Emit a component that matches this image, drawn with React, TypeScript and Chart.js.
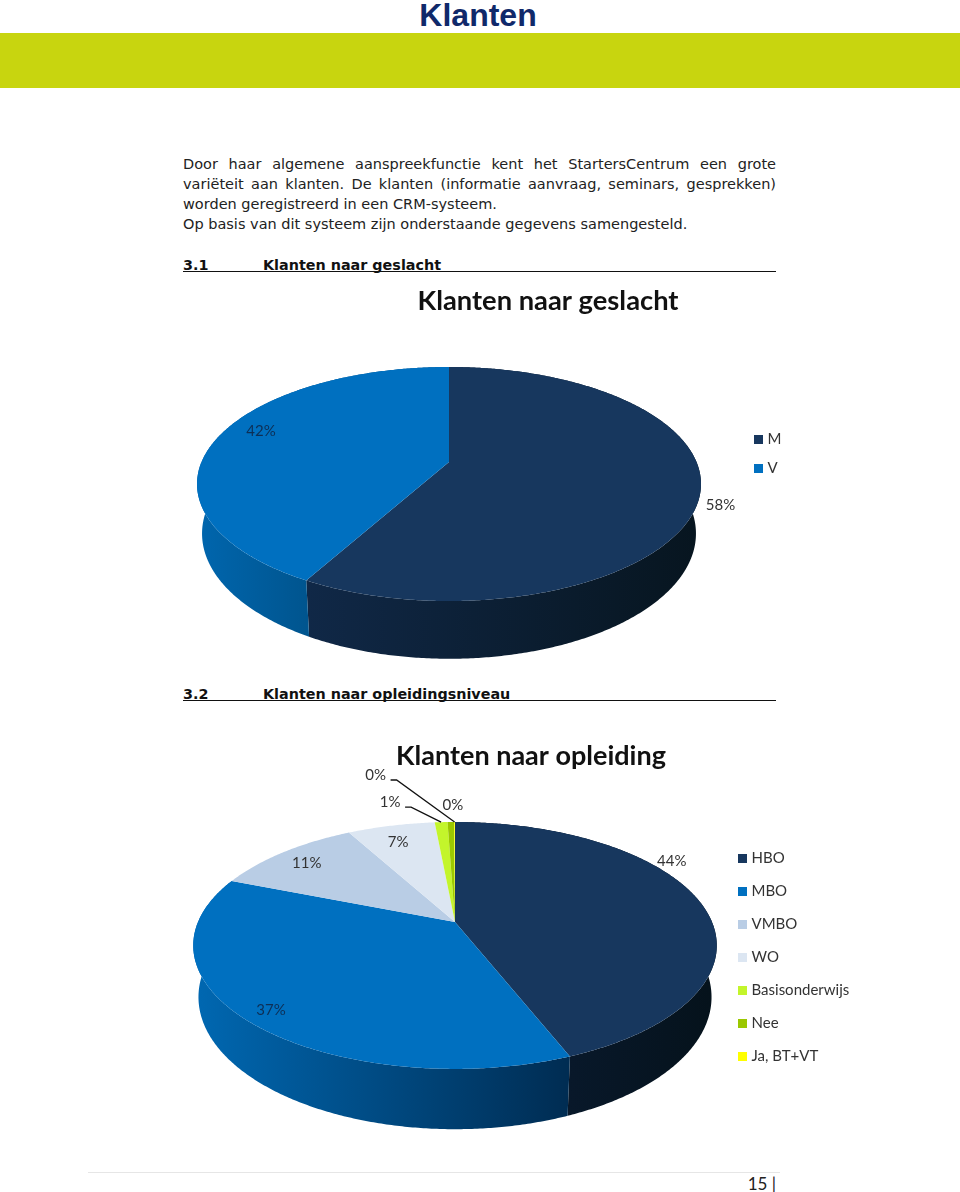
import React, { useEffect, useRef } from "react";
import { Chart, registerables } from "chart.js";

Chart.register(...registerables);

// ---- data ----
const genderTitle = "Klanten naar geslacht";
const genderLabels = ["M", "V"];
const genderValues = [58, 42];
const genderColors = ["#17375E", "#0070C0"];
const genderWalls = [["#102847", "#07151f"], ["#0066ae", "#00558f"]];
const genderLabelColors = ["#333333", "#0d2f55"];

const eduTitle = "Klanten naar opleiding";
const eduLabels = ["HBO", "MBO", "VMBO", "WO", "Basisonderwijs", "Nee", "Ja, BT+VT"];
const eduValues = [44, 37, 11, 6.5, 0.95, 0.49, 0.06];
const eduColors = ["#17375E", "#0070C0", "#B9CDE5", "#DCE6F2", "#C3F52B", "#9BC800", "#FFFF00"];
const eduWalls = [["#08182a", "#05121b"], ["#0068b2", "#002c52"], ["#8a99ab", "#8a99ab"], ["#a5acb5", "#a5acb5"], ["#92b820", "#92b820"], ["#749600", "#749600"], ["#bfbf00", "#bfbf00"]];
const eduLabelColors = ["#333333", "#0d2f55", "#333333", "#333333", "#333333", "#333333", "#333333"];

const introLines = [
  "Door haar algemene aanspreekfunctie kent het StartersCentrum een grote",
  "variëteit aan klanten. De klanten (informatie aanvraag, seminars, gesprekken)",
];
const FONT = "Lato, sans-serif";

type Cfg = {
  left: number; top: number; width: number; height: number;
  title: string; titleSize: number; labels: string[]; values: number[]; colors: string[]; walls: string[][]; labelColors: string[];
  cx: number; cy: number; rx: number; ry: number; persp: number; depth: number; shrink: number; stretch: number;
  titlePad: number; legendPos: number[]; legendGap: number;
  labelOffsets: number[][]; leaders: boolean[];
};

const pie3d = (c: Cfg) => {
  const project = (a: number, scale = 1) => {
    const u = Math.cos(a) * scale, v = Math.sin(a) * scale;
    const w = 1 + c.persp * v;
    return { x: c.cx + (c.rx * u) / w, y: c.cy + (c.ry * v) / w };
  };
  const under = (p: { x: number; y: number }) => ({
    x: c.cx + (p.x - c.cx) * c.shrink,
    y: c.cy + (p.y - c.cy) * c.stretch + c.depth,
  });
  const samples = (s: number, e: number) => {
    const n = Math.max(2, Math.ceil(((e - s) * 180) / Math.PI / 0.5));
    return Array.from({ length: n + 1 }, (_, i) => project(s + ((e - s) * i) / n));
  };
  return {
    id: "pie3d",
    afterLayout(chart: any) {
      const l = chart.legend;
      const w = l.width;
      l.left = c.legendPos[0];
      l.right = c.legendPos[0] + w;
      l.top = c.legendPos[1];
      l.bottom = c.height;
    },
    beforeDatasetDraw() {
      return false;
    },
    beforeDatasetsDraw(chart: any) {
      const ctx = chart.ctx;
      const arcs = chart.getDatasetMeta(0).data;
      arcs.forEach((el: any, i: number) => {
        const pts = samples(el.startAngle, el.endAngle);
        const low = pts.map(under);
        const xs = pts.filter((p) => p.y > c.cy).map((p) => p.x);
        if (!xs.length) return;
        const g = ctx.createLinearGradient(Math.min(...xs), 0, Math.max(...xs), 0);
        g.addColorStop(0, c.walls[i][0]);
        g.addColorStop(1, c.walls[i][1]);
        ctx.beginPath();
        pts.forEach((p, k) => (k ? ctx.lineTo(p.x, p.y) : ctx.moveTo(p.x, p.y)));
        low.reverse().forEach((p) => ctx.lineTo(p.x, p.y));
        ctx.closePath();
        ctx.fillStyle = g;
        ctx.fill();
      });
      arcs.forEach((el: any, i: number) => {
        ctx.beginPath();
        ctx.moveTo(c.cx, c.cy);
        samples(el.startAngle, el.endAngle).forEach((p) => ctx.lineTo(p.x, p.y));
        ctx.closePath();
        ctx.fillStyle = c.colors[i];
        ctx.fill();
      });
    },
    afterDatasetsDraw(chart: any) {
      const ctx = chart.ctx;
      const arcs = chart.getDatasetMeta(0).data;
      ctx.font = `15px ${FONT}`;
      ctx.textAlign = "center";
      ctx.textBaseline = "middle";
      arcs.forEach((el: any, i: number) => {
        const edge = project((el.startAngle + el.endAngle) / 2);
        const x = edge.x + c.labelOffsets[i][0];
        const y = edge.y + c.labelOffsets[i][1];
        ctx.fillStyle = c.labelColors[i];
        ctx.fillText(`${Math.round(c.values[i])}%`, x, y);
        if (c.leaders[i]) {
          ctx.beginPath();
          ctx.moveTo(x + 15, y + 5);
          ctx.lineTo(x + 21, y + 5);
          ctx.lineTo(edge.x, edge.y);
          ctx.strokeStyle = "#111111";
          ctx.lineWidth = 1.3;
          ctx.stroke();
        }
      });
    },
  };
};

function Pie3D({ c }: { c: Cfg }) {
  const ref = useRef<HTMLCanvasElement>(null);
  useEffect(() => {
    const chart = new Chart(ref.current as HTMLCanvasElement, {
      type: "pie",
      data: {
        labels: c.labels,
        datasets: [{ data: c.values, backgroundColor: c.colors, borderWidth: 0 }],
      },
      options: {
        responsive: false,
        animation: false,
        plugins: {
          tooltip: { enabled: false },
          title: {
            display: true,
            text: c.title,
            color: "#111111",
            font: { family: FONT, size: c.titleSize, weight: "bold", lineHeight: 1.2 },
            padding: { top: c.titlePad, bottom: 0 },
          },
          legend: {
            position: "right",
            align: "start",
            labels: {
              usePointStyle: true,
              pointStyle: "rect",
              boxWidth: 3,
              boxHeight: 9,
              padding: c.legendGap,
              color: "#333333",
              font: { family: FONT, size: 15, lineHeight: 1 },
            },
          },
        },
      } as any,
      plugins: [pie3d(c)],
    });
    return () => chart.destroy();
  }, []);
  return (
    <canvas
      ref={ref}
      width={c.width}
      height={c.height}
      style={{ position: "absolute", left: c.left, top: c.top, width: c.width, height: c.height }}
    />
  );
}

const genderCfg: Cfg = {
  left: 183, top: 275, width: 730, height: 395,
  title: genderTitle, titleSize: 27.3, labels: genderLabels, values: genderValues, colors: genderColors, walls: genderWalls, labelColors: genderLabelColors,
  cx: 266, cy: 187, rx: 247.5, ry: 112.9, persp: -0.188, depth: 48, shrink: 0.98, stretch: 1.07,
  titlePad: 10, legendPos: [560, 143], legendGap: 14,
  labelOffsets: [[20, 13.5], [41, -4]], leaders: [false, false],
};
const eduCfg: Cfg = {
  left: 183, top: 710, width: 696, height: 430,
  title: eduTitle, titleSize: 27, labels: eduLabels, values: eduValues, colors: eduColors, walls: eduWalls, labelColors: eduLabelColors,
  cx: 272, cy: 212, rx: 257, ry: 119, persp: -0.19, depth: 50, shrink: 0.98, stretch: 1.07,
  titlePad: 30, legendPos: [540, 123], legendGap: 18,
  labelOffsets: [[-27, -39], [26, -9], [23, 11], [7, 16], [-51, -20], [2, -17], [-79, -47]],
  leaders: [false, false, false, false, true, false, true],
};

const bodyText: React.CSSProperties = {
  position: "absolute", left: 183, width: 593, fontFamily: "'DejaVu Sans', sans-serif", fontSize: 14.5, lineHeight: "20px",
  color: "#222222", whiteSpace: "nowrap",
};
const justified: React.CSSProperties = { ...bodyText, whiteSpace: "normal", textAlign: "justify", textAlignLast: "justify" };
const heading: React.CSSProperties = {
  position: "absolute", left: 183, width: 593, height: 15, fontFamily: "'DejaVu Sans', sans-serif", fontSize: 14.35, fontWeight: "bold",
  lineHeight: "18px", color: "#111111", borderBottom: "1.5px solid #111111", whiteSpace: "nowrap",
};

export default function App() {
  return (
    <div style={{ position: "absolute", left: 0, top: 0, width: 960, height: 1192, overflow: "hidden", background: "#ffffff" }}>
      <div style={{ position: "absolute", left: 0, width: 956, top: -3, textAlign: "center", fontFamily: "'Liberation Sans', sans-serif", fontWeight: "bold", fontSize: 32, lineHeight: "36px", color: "#10296a" }}>Klanten</div>
      <div style={{ position: "absolute", left: 0, top: 33, width: 960, height: 55, background: "#C8D50F" }} />
      <div style={{ ...justified, top: 154 }}>{introLines[0]}</div>
      <div style={{ ...justified, top: 174 }}>{introLines[1]}</div>
      <div style={{ ...bodyText, top: 194 }}>worden geregistreerd in een CRM-systeem.</div>
      <div style={{ ...bodyText, top: 214 }}>Op basis van dit systeem zijn onderstaande gegevens samengesteld.</div>
      <Pie3D c={genderCfg} />
      <Pie3D c={eduCfg} />
      <div style={{ ...heading, top: 256 }}>3.1<span style={{ position: "absolute", left: 80 }}>Klanten naar geslacht</span></div>
      <div style={{ ...heading, top: 685 }}>3.2<span style={{ position: "absolute", left: 80 }}>Klanten naar opleidingsniveau</span></div>
      <div style={{ position: "absolute", left: 88, top: 1172, width: 692, height: 1, background: "#e6e6e6" }} />
      <div style={{ position: "absolute", left: 700, width: 76, top: 1174, textAlign: "right", fontFamily: FONT, fontSize: 17, lineHeight: "20px", color: "#222222" }}>15 |</div>
    </div>
  );
}
